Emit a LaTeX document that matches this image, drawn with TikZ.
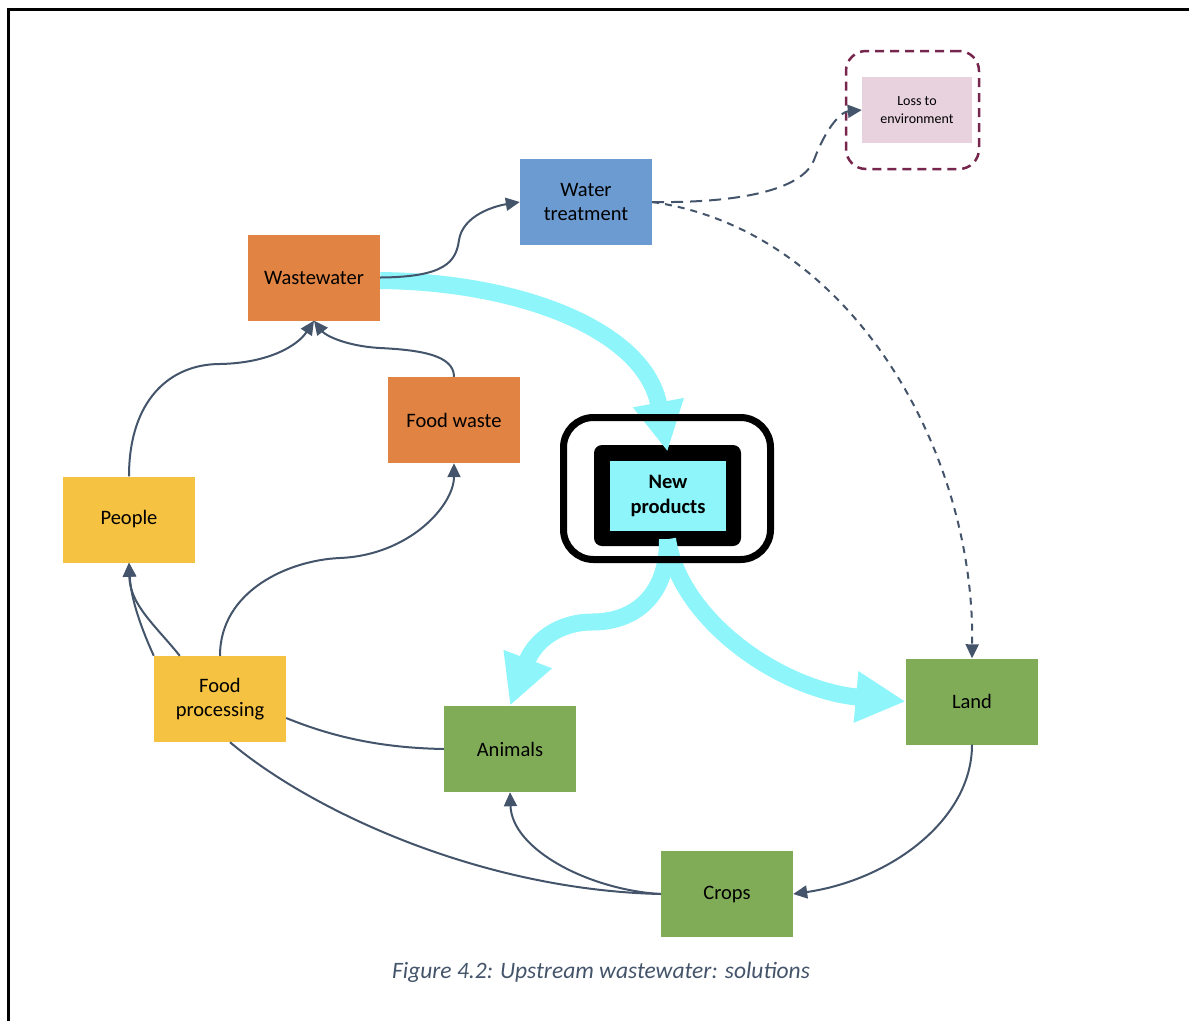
\documentclass[tikz,border=0pt]{standalone}
\usepackage{fontspec}
\setmainfont{Carlito}
\usetikzlibrary{arrows.meta}
\definecolor{wasteOrange}{RGB}{224,131,67}
\definecolor{treatBlue}{RGB}{108,155,210}
\definecolor{peopleYellow}{RGB}{245,194,66}
\definecolor{farmGreen}{RGB}{128,172,87}
\definecolor{lossPink}{RGB}{231,210,221}
\definecolor{lossMaroon}{RGB}{118,37,76}
\definecolor{linkGrey}{RGB}{68,84,106}
\definecolor{flowCyan}{RGB}{142,245,250}
\begin{document}
\begin{tikzpicture}[x=1pt,y=-1pt,
  box/.style={rectangle, minimum width=132pt, minimum height=86pt, inner sep=0pt,
    align=center, font=\fontsize{20.5}{24.5}\selectfont, text=black},
  flow/.style={draw=linkGrey, line width=2pt, -{Triangle[length=14pt,width=13pt]}},
  plainlink/.style={draw=linkGrey, line width=2pt},
  bigflow/.style={draw=flowCyan, line width=17pt, -{Triangle[length=50pt,width=48pt]}}]
\useasboundingbox (0,0) rectangle (1189,1021);

% page frame
\draw[line width=3pt] (8,1021) -- (8,9) -- (1189,9);

% boxes
\node[box, fill=wasteOrange] (ww) at (314,277.5) {Wastewater};
\node[box, fill=treatBlue] (wt) at (586,202) {Water\\treatment};
\node[box, fill=wasteOrange] (fw) at (454,420) {Food waste};
\node[box, fill=peopleYellow] (pe) at (129,519.5) {People};
\node[box, fill=peopleYellow] (fp) at (220,699) {Food\\processing};
\node[box, fill=farmGreen] (an) at (510,749) {Animals};
\node[box, fill=farmGreen] (la) at (972,701.5) {Land};
\node[box, fill=farmGreen] (cr) at (727,894) {Crops};

% loss to environment
\node[rectangle, draw=lossMaroon, dashed, dash pattern=on 9pt off 6pt, line width=2.5pt,
  rounded corners=20pt, minimum width=133pt, minimum height=118pt] (lofr) at (912.5,110) {};
\node[rectangle, fill=lossPink, minimum width=110pt, minimum height=66pt, inner sep=0pt,
  align=center, font=\fontsize{14}{18}\selectfont] (lo) at (917,110) {Loss to\\environment};

% new products
\node[rectangle, fill=black, rounded corners=8pt, minimum width=147pt, minimum height=101pt] (npin) at (667.5,495.5) {};
\node[rectangle, fill=flowCyan, minimum width=116pt, minimum height=70pt, inner sep=0pt,
  align=center, font=\fontsize{20.5}{25}\selectfont\bfseries] (npc) at (668,496) {New\\products};

% wide cyan flows
\draw[bigflow] ([yshift=-3pt]ww.east) .. controls (520,282) and (645,330) .. ([yshift=-7pt]npin.north);
\draw[bigflow] ([yshift=7pt]npin.south) .. controls (668,590) and (640,622) .. (592,622)
  .. controls (560,622) and (535,640) .. (an.north);
\draw[bigflow] ([yshift=7pt]npin.south) .. controls (680,620) and (780,690) .. (la.west);

\node[rectangle, draw=black, line width=7pt, rounded corners=30pt, minimum width=207pt, minimum height=142pt] (np) at (667,488.5) {};

% links
\draw[flow] (ww.east) .. controls (445,277) and (456,262) .. (459,240)
  .. controls (463,215) and (495,206) .. (wt.west);
\draw[flow] (pe.north) .. controls (129,400) and (170,364) .. (220,364)
  .. controls (270,363) and (298,345) .. (ww.south);
\draw[flow] (fw.north) .. controls (454,355) and (420,350) .. (380,348)
  .. controls (345,346) and (325,335) .. (ww.south);
\draw[flow] (fp.north west) .. controls (142,630) and (131,600) .. (pe.south);
\draw[flow] ([xshift=26pt]fp.north west) .. controls (155,625) and (130,605) .. (pe.south);
\draw[flow] (fp.north) .. controls (220,590) and (290,560) .. (340,558)
  .. controls (410,555) and (454,505) .. (fw.south);
\draw[plainlink] ([yshift=-19pt]fp.east) .. controls (340,740) and (390,748) .. (an.west);
\draw[plainlink] ([xshift=10pt]fp.south) .. controls (310,810) and (480,890) .. (cr.west);
\draw[flow] (cr.west) .. controls (590,890) and (512,850) .. (an.south);
\draw[flow] (la.south) .. controls (972,820) and (890,880) .. (cr.east);
\draw[flow, dash pattern=on 12pt off 7pt] (wt.east) .. controls (720,203) and (800,195) .. (814,160)
  .. controls (825,130) and (840,112) .. (lo.west);
\draw[flow, dash pattern=on 7pt off 6pt] (wt.east) .. controls (850,230) and (975,450) .. (la.north);

% caption
\node[text=linkGrey, font=\fontsize{23.5}{28}\selectfont\itshape] (cap) at (601,972) {Figure 4.2: Upstream wastewater: solutions};
\end{tikzpicture}
\end{document}
